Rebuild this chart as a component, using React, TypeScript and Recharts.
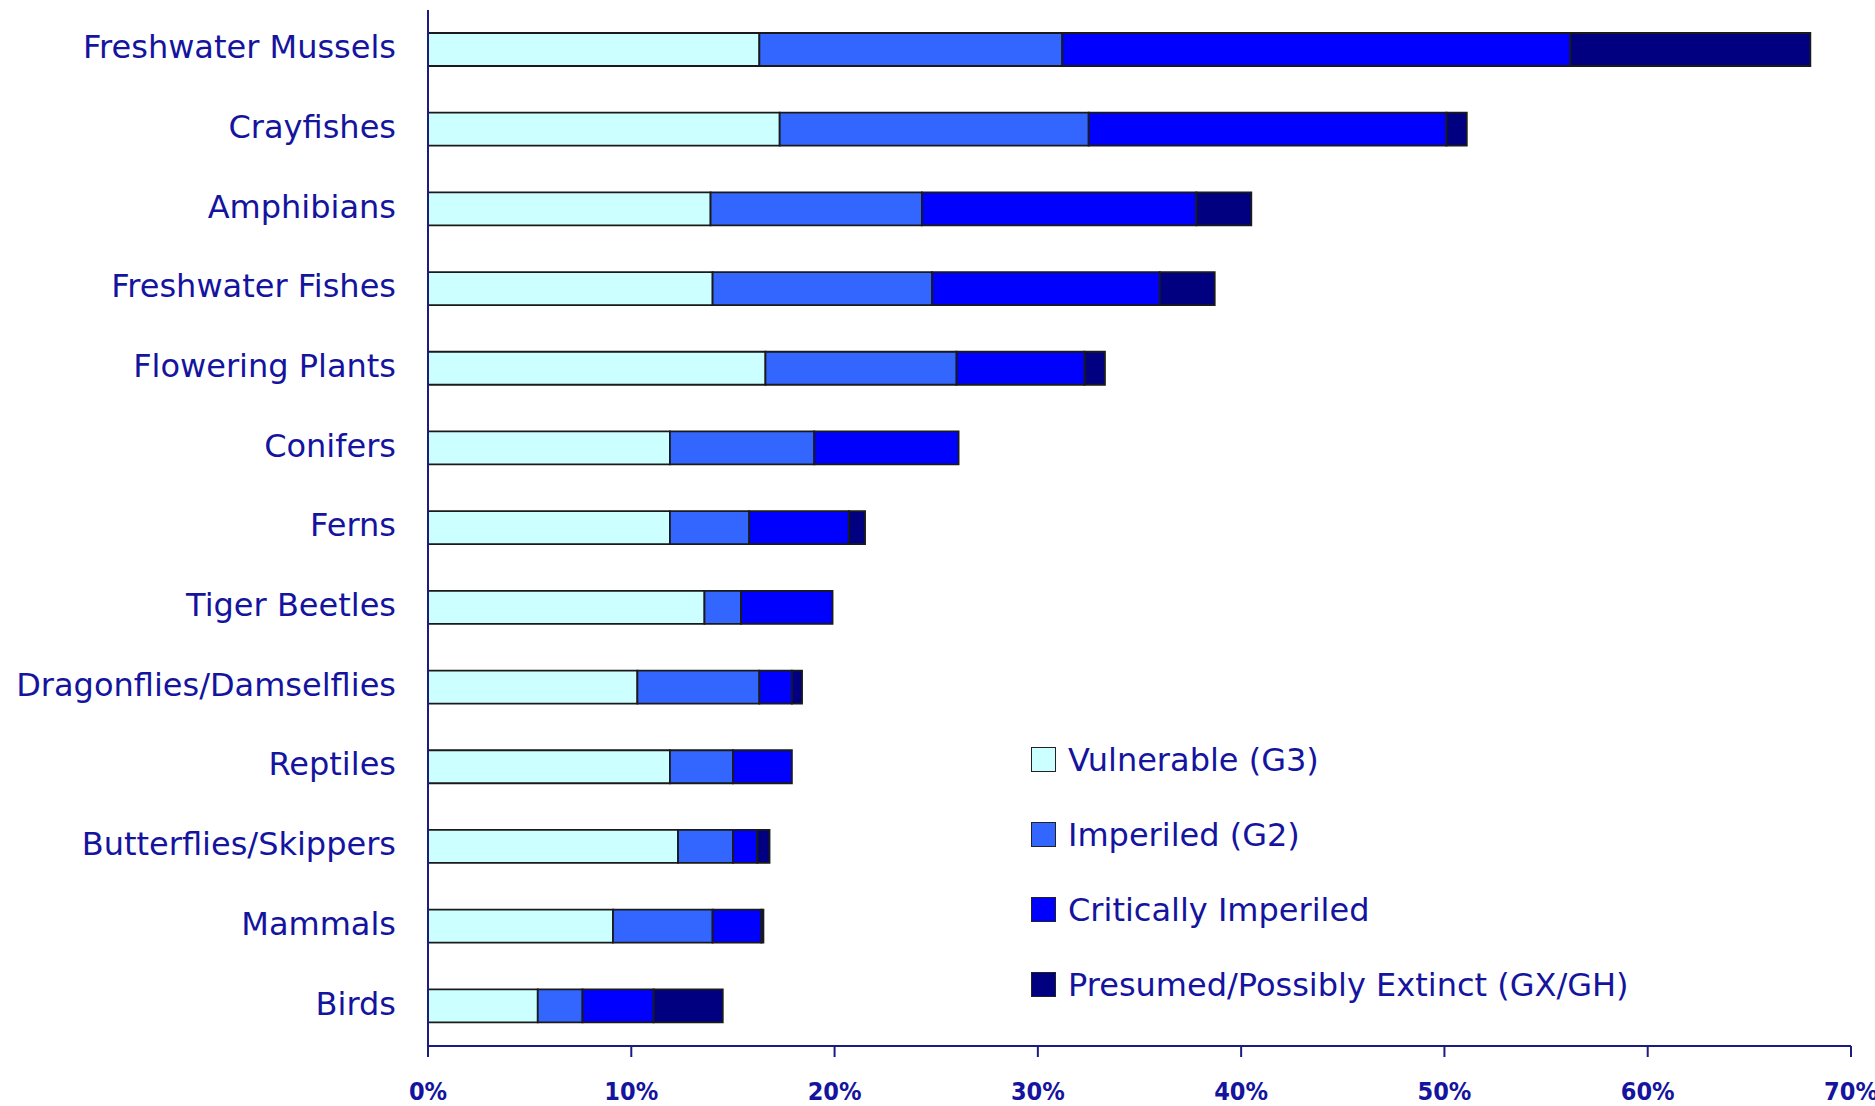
import { Bar, BarChart, XAxis, YAxis } from 'recharts';

const categories = [
  'Freshwater Mussels',
  'Crayfishes',
  'Amphibians',
  'Freshwater Fishes',
  'Flowering Plants',
  'Conifers',
  'Ferns',
  'Tiger Beetles',
  'Dragonflies/Damselflies',
  'Reptiles',
  'Butterflies/Skippers',
  'Mammals',
  'Birds',
];

// percent of species in each rank (segment widths, stacked left to right)
const vulnerable = [16.3, 17.3, 13.9, 14.0, 16.6, 11.9, 11.9, 13.6, 10.3, 11.9, 12.3, 9.1, 5.4];
const imperiled = [14.9, 15.2, 10.4, 10.8, 9.4, 7.1, 3.9, 1.8, 6.0, 3.1, 2.7, 4.9, 2.2];
const critical = [25.0, 17.6, 13.5, 11.2, 6.3, 7.1, 4.9, 4.5, 1.6, 2.9, 1.2, 2.4, 3.5];
const extinct = [11.8, 1.0, 2.7, 2.7, 1.0, 0, 0.8, 0, 0.5, 0, 0.6, 0.1, 3.4];

const xTicks = [0, 10, 20, 30, 40, 50, 60, 70];

const NAVY = '#14149e';
const AXIS = '#1c1c80';
const FONT = '"DejaVu Sans", sans-serif';
const TICK_FONT = '"DejaVu Sans Condensed", "DejaVu Sans", sans-serif';

const data = categories.map((name, i) => ({
  name,
  vulnerable: vulnerable[i],
  imperiled: imperiled[i],
  critical: critical[i],
  extinct: extinct[i],
}));

const series = [
  { key: 'vulnerable', label: 'Vulnerable (G3)', color: '#ccffff' },
  { key: 'imperiled', label: 'Imperiled (G2)', color: '#3366ff' },
  { key: 'critical', label: 'Critically Imperiled', color: '#0000ff' },
  { key: 'extinct', label: 'Presumed/Possibly Extinct (GX/GH)', color: '#000080' },
];

// legend sits inside the empty lower-right part of the plot
function StatusLegend() {
  return (
    <div
      style={{
        position: 'absolute',
        left: 1031,
        top: 722,
        fontFamily: FONT,
        fontSize: 32,
        color: NAVY,
      }}
    >
      {series.map((s) => (
        <div key={s.key} style={{ display: 'flex', alignItems: 'center', height: 75, whiteSpace: 'nowrap' }}>
          <span
            style={{
              display: 'inline-block',
              width: 23,
              height: 23,
              background: s.color,
              border: '1.5px solid #222',
              marginRight: 12,
            }}
          />
          <span>{s.label}</span>
        </div>
      ))}
    </div>
  );
}

export default function App() {
  return (
    <div style={{ position: 'absolute', left: 0, top: 0, width: 1875, height: 1106, background: '#fff', overflow: 'hidden' }}>
      <BarChart
        width={1875}
        height={1106}
        data={data}
        layout="vertical"
        margin={{ top: 10, right: 24, bottom: 0, left: 0 }}
      >
        <XAxis
          type="number"
          domain={[0, 70]}
          ticks={xTicks}
          tickFormatter={(v: number) => `${v}%`}
          height={60}
          axisLine={{ stroke: AXIS, strokeWidth: 2 }}
          tickLine={{ stroke: AXIS, strokeWidth: 2 }}
          tickSize={11}
          tickMargin={25}
          tick={{ fill: NAVY, fontSize: 25, fontWeight: 700, fontFamily: TICK_FONT }}
        />
        <YAxis
          type="category"
          dataKey="name"
          width={428}
          axisLine={{ stroke: AXIS, strokeWidth: 2 }}
          tickLine={false}
          tickSize={0}
          tickMargin={32}
          interval={0}
          tick={{ fill: NAVY, fontSize: 32, fontFamily: FONT, dy: -3 }}
        />
        {series.map((s) => (
          <Bar
            key={s.key}
            dataKey={s.key}
            name={s.label}
            stackId="rank"
            fill={s.color}
            stroke="#1a1a1a"
            strokeWidth={1.8}
            barSize={33}
            isAnimationActive={false}
          />
        ))}
      </BarChart>
      <StatusLegend />
    </div>
  );
}
